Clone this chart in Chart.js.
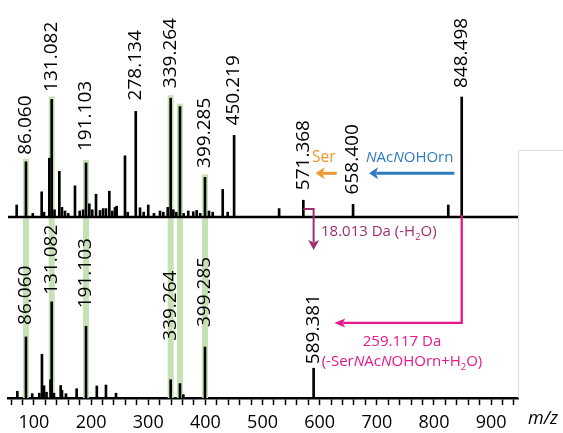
<!DOCTYPE html>
<html>
<head>
<meta charset="utf-8">
<script src="https://cdn.jsdelivr.net/npm/chart.js@4.4.1/dist/chart.umd.min.js"></script>
<style>
  html, body { margin: 0; padding: 0; background: #fff; }
  #wrap { width: 563px; height: 433px; }
</style>
</head>
<body>
<div id="wrap"><canvas id="msChart" width="563" height="433"></canvas></div>
<script>
// top spectrum (relative intensity, % of 848.498)
const topMz = [69.8, 86.06, 98, 113.5, 117.6, 126.9, 131.082, 136, 144.4, 149, 154.3, 160, 171.8, 180, 186,
  191.103, 196.9, 202, 208.6, 215.6, 221, 226, 231.9, 237, 241.8, 244.8, 259.3, 264, 278.134, 285.6, 292,
  300, 310, 320.6, 326.4, 334, 339.264, 343.9, 349, 355.5, 362, 370, 378.8, 384.8, 391, 399.285, 406.3,
  412.8, 430.3, 439, 450.219, 529, 571.368, 658.4, 825, 848.498];
const topInt = [10, 46, 3, 21, 4, 49, 98, 6, 38, 8, 5, 3, 26, 5, 6,
  45, 11, 6, 19, 5.5, 7, 7, 21.5, 5, 8, 9, 51, 4, 88, 7.7, 4,
  10, 3, 5, 4, 8, 99, 6, 4, 92, 3, 5, 4.4, 5.5, 3, 33, 5,
  4, 23, 4, 68, 7, 14, 10.5, 10, 100];

// bottom spectrum (relative intensity, % of 131.082)
const botMz = [70.9, 86.06, 97, 109.4, 114, 117.6, 122, 129, 131.082, 135, 146.8, 149, 156, 174.7,
  191.103, 210, 226, 243.6, 339.264, 355.5, 361.4, 399.285, 589.381];
const botInt = [7, 63.5, 4.5, 5, 45.5, 12.7, 6, 19, 100, 5, 13, 8, 4.5, 9.7,
  74.6, 12.5, 13.5, 5, 19, 15, 3.5, 53, 31];

const topLabels = [86.060, 131.082, 191.103, 278.134, 339.264, 399.285, 450.219, 571.368, 658.400, 848.498];
const botLabels = [86.060, 131.082, 191.103, 339.264, 399.285, 589.381];
const highlightMz = [86.06, 131.082, 191.103, 339.264, 355.5, 399.285];

const toPoints = (mz, ints) => mz.map((m, i) => ({ x: m, y: ints[i] }));

function richText(ctx, parts, x, y, size, align) {
  const fontOf = (p) => (p.i ? 'italic ' : '') + (p.sub ? size * 0.62 : size) + 'px "Open Sans"';
  let w = 0;
  parts.forEach((p) => { ctx.font = fontOf(p); w += ctx.measureText(p.t).width; });
  let cx = align === 'center' ? x - w / 2 : x;
  ctx.textAlign = 'left';
  ctx.textBaseline = 'middle';
  parts.forEach((p) => {
    ctx.font = fontOf(p);
    ctx.fillText(p.t, cx, y + (p.sub ? size * 0.35 : 0));
    cx += ctx.measureText(p.t).width;
  });
}

function arrowPath(ctx, pts, color, lw, headLen, headHalf) {
  ctx.strokeStyle = color;
  ctx.fillStyle = color;
  ctx.lineWidth = lw;
  const n = pts.length;
  const [ax, ay] = pts[n - 2];
  const [bx, by] = pts[n - 1];
  const ang = Math.atan2(by - ay, bx - ax);
  // stop the line where the head begins
  const ex = bx - Math.cos(ang) * headLen * 0.8;
  const ey = by - Math.sin(ang) * headLen * 0.8;
  ctx.beginPath();
  ctx.moveTo(pts[0][0], pts[0][1]);
  for (let i = 1; i < n - 1; i++) ctx.lineTo(pts[i][0], pts[i][1]);
  ctx.lineTo(ex, ey);
  ctx.stroke();
  ctx.beginPath();
  ctx.moveTo(bx, by);
  ctx.lineTo(bx - Math.cos(ang) * headLen - Math.sin(ang) * headHalf, by - Math.sin(ang) * headLen + Math.cos(ang) * headHalf);
  ctx.lineTo(bx - Math.cos(ang) * headLen * 0.75, by - Math.sin(ang) * headLen * 0.75);
  ctx.lineTo(bx - Math.cos(ang) * headLen + Math.sin(ang) * headHalf, by - Math.sin(ang) * headLen - Math.cos(ang) * headHalf);
  ctx.closePath();
  ctx.fill();
}

const spectrumDecor = {
  id: 'spectrumDecor',
  beforeDatasetsDraw(chart, args, opts) {
    const { ctx, chartArea, scales: { x, yTop, yBot } } = chart;
    ctx.save();
    // green highlight bands through both spectra
    ctx.fillStyle = opts.highlightColor;
    highlightMz.forEach((mz) => {
      const px = x.getPixelForValue(mz);
      const ty = yTop.getPixelForValue(topInt[topMz.indexOf(mz)]) - 3;
      ctx.fillRect(px - 3, ty, 6, yBot.getPixelForValue(0) - ty);
    });
    // baseline of the upper spectrum
    const by = yTop.getPixelForValue(0);
    ctx.strokeStyle = '#000';
    ctx.lineWidth = 2.5;
    ctx.beginPath();
    ctx.moveTo(chartArea.left, by);
    ctx.lineTo(chartArea.right, by);
    ctx.stroke();
    ctx.restore();
  },
  afterDatasetsDraw(chart, args, opts) {
    const { ctx, chartArea, scales: { x, yTop, yBot } } = chart;
    const P = (mz, v) => [x.getPixelForValue(mz), yTop.getPixelForValue(v)];
    ctx.save();

    // rotated peak labels
    ctx.fillStyle = '#000';
    ctx.font = '19px "Open Sans"';
    const drawLabels = (list, mzs, ints, scale, gaps) => {
      list.forEach((mz) => {
        const txt = mz.toFixed(3);
        const i = mzs.findIndex((m) => Math.abs(m - mz) < 0.01);
        const px = x.getPixelForValue(mz);
        const py = scale.getPixelForValue(ints[i]) - (gaps[txt] || 9);
        ctx.save();
        ctx.translate(px, py);
        ctx.rotate(-Math.PI / 2);
        ctx.textAlign = 'left';
        ctx.textBaseline = 'middle';
        ctx.fillText(txt, 0, 0);
        ctx.restore();
      });
    };
    drawLabels(topLabels, topMz, topInt, yTop, opts.topGaps);
    drawLabels(botLabels, botMz, botInt, yBot, opts.botGaps);

    // neutral losses
    const c = opts.colors;
    arrowPath(ctx, [P(629.8, 36.4), P(593, 36.4)], c.ser, 3, 9, 6);
    arrowPath(ctx, [P(835.5, 36.4), P(686.3, 36.4)], c.nac, 3, 9, 6);
    arrowPath(ctx, [P(571.368, 6.7), P(589.381, 6.7), P(589.381, -27.5)], c.water, 2, 10, 5.5);
    arrowPath(ctx, [P(848.498, 1.5), P(848.498, -88.3), P(625.6, -88.3)], c.loss, 2.3, 11, 4.5);

    ctx.fillStyle = c.ser;
    richText(ctx, [{ t: 'Ser' }], ...P(607.2, 49.6), 15.5, 'center');
    ctx.fillStyle = c.nac;
    richText(ctx, [{ t: 'N', i: true }, { t: 'Ac' }, { t: 'N', i: true }, { t: 'OHOrn' }], ...P(757.5, 49.6), 15, 'center');
    ctx.fillStyle = c.water;
    richText(ctx, [{ t: '18.013 Da (-H' }, { t: '2', sub: true }, { t: 'O)' }], ...P(602.3, -12.25), 15, 'left');
    ctx.fillStyle = c.loss;
    richText(ctx, [{ t: '259.117 Da' }], ...P(744, -103.9), 15, 'center');
    richText(ctx, [{ t: '(-Ser' }, { t: 'N', i: true }, { t: 'Ac' }, { t: 'N', i: true }, { t: 'OHOrn+H' },
      { t: '2', sub: true }, { t: 'O)' }], ...P(744, -120.6), 15, 'center');

    // axis title
    ctx.fillStyle = '#000';
    ctx.font = 'italic 18px "Open Sans"';
    ctx.textAlign = 'left';
    ctx.textBaseline = 'middle';
    ctx.fillText('m/z', chartArea.right + 10, chartArea.bottom + 21);

    // faint frame at the right
    ctx.strokeStyle = '#dcdcdc';
    ctx.lineWidth = 1;
    ctx.beginPath();
    ctx.moveTo(chartArea.right + 0.5, chartArea.bottom);
    ctx.lineTo(chartArea.right + 0.5, 150.5);
    ctx.lineTo(chart.width, 150.5);
    ctx.stroke();
    ctx.restore();
  }
};

const ctx = document.getElementById('msChart').getContext('2d');
const msChart = new Chart(ctx, {
  type: 'bar',
  data: {
    datasets: [
      {
        label: 'top',
        data: toPoints(topMz, topInt),
        yAxisID: 'yTop',
        backgroundColor: '#000',
        barThickness: 2,
        grouped: false,
      },
      {
        label: 'bottom',
        data: toPoints(botMz, botInt),
        yAxisID: 'yBot',
        backgroundColor: '#000',
        barThickness: 2,
        grouped: false,
      },
    ],
  },
  options: {
    responsive: false,
    animation: false,
    layout: { padding: { left: 8, right: 45, top: 0, bottom: 0 } },
    plugins: {
      legend: { display: false },
      tooltip: { enabled: false },
      spectrumDecor: {
        highlightColor: '#c6e2b5',
        colors: { ser: '#f0962e', nac: '#2e7bc0', water: '#9e2f6e', loss: '#e5198b' },
        topGaps: { '86.060': 7, '131.082': 7.5, '191.103': 12, '278.134': 11, '339.264': 10, '399.285': 9.5,
          '450.219': 10, '571.368': 10, '658.400': 10, '848.498': 9 },
        botGaps: { '86.060': 12, '131.082': 7, '191.103': 18, '339.264': 39, '399.285': 20, '589.381': 4 },
      },
    },
    scales: {
      x: {
        type: 'linear',
        min: 54.6,
        max: 947,
        offset: false,
        afterFit: (scale) => { scale.height = 35; },
        ticks: {
          stepSize: 20,
          autoSkip: false,
          includeBounds: false,
          maxRotation: 0,
          padding: 7,
          color: '#000',
          font: { family: 'Open Sans', size: 18 },
          callback: (v) => (v % 100 === 0 ? v : ''),
        },
        grid: { offset: false, drawOnChartArea: false, drawTicks: true, tickLength: 7, tickWidth: 1.5, tickColor: '#000' },
        border: { color: '#000', width: 2.5 },
      },
      yTop: { display: false, min: -150.83, max: 180.83 },
      yBot: { display: false, min: 0, max: 414 },
    },
  },
  plugins: [spectrumDecor],
});
</script>
</body>
</html>
